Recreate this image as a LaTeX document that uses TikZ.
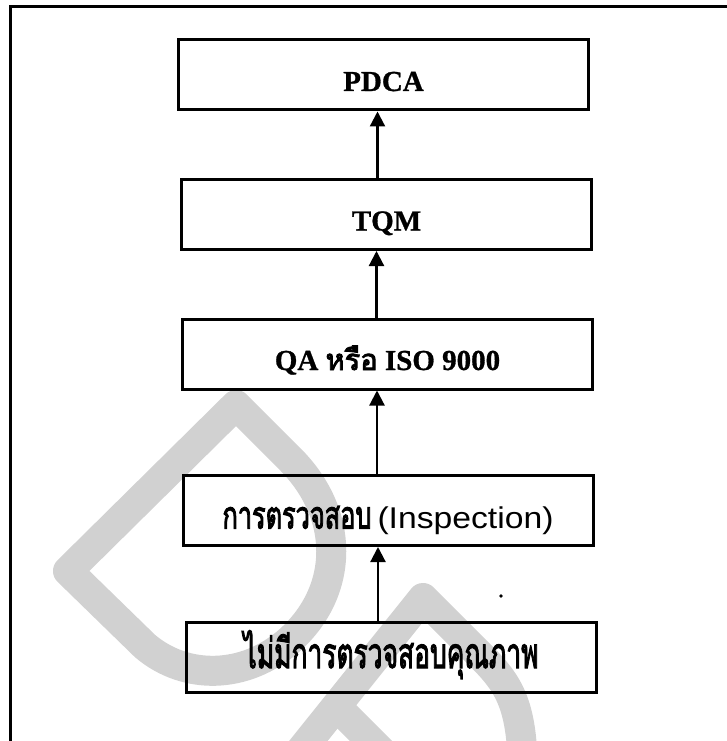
\documentclass[tikz,border=0pt]{standalone}
\usepackage{fontspec}
\usepackage{graphicx}
\setmainfont{Liberation Serif}[BoldFeatures={FakeBold=1}]
\newfontfamily\thaifont[Script=Thai, BoldFont=Loma, BoldFeatures={FakeBold=3}]{Loma}
\newfontfamily\arialfont{Liberation Sans}
\usetikzlibrary{arrows.meta}

\tikzset{
  stage/.style={draw, line width=3pt, minimum width=410pt, minimum height=70pt,
    inner sep=0pt, text height=32pt, text depth=0pt},
  upar/.style={line width=2.2pt, -{Triangle[length=15pt,width=15pt]}},
  wmark/.style={draw=black!18, line width=30pt, line join=round}
}

\begin{document}
\begin{tikzpicture}[x=1pt, y=-1pt]
  \useasboundingbox (0,0) rectangle (727,741);
  % watermark behind everything
  \begin{scope}
    \clip (0,0) rectangle (727,741);
    \draw[wmark] (68,571) -- (236,405) -- (290,459)
      .. controls (345,514) and (345,590) .. (290,640)
      .. controls (245,680) and (185,680) .. (145,646) -- cycle;
    \draw[wmark] (261,800) -- (423,598) -- (480,655)
      .. controls (510,685) and (523,705) .. (523,780);
    \draw[wmark] (335,705) -- (395,765);
  \end{scope}
  % frame
  \draw[line width=3pt] (10,741) -- (10,7) -- (727,7);

  \node[stage] (pdca) at (383.5,75) {\fontsize{29}{34}\selectfont\bfseries PDCA};
  \node[stage] (tqm) at (386.5,214.5) {\fontsize{29}{34}\selectfont\bfseries TQM};
  \node[stage] (qa) at (387.5,354) {\fontsize{29}{34}\selectfont\bfseries QA {\thaifont หรือ} ISO 9000};
  \node[stage, text height=36pt] (insp) at (388,510.5)
    {\fontsize{38}{44}\selectfont\resizebox{149pt}{\height}{\thaifont\bfseries การตรวจสอบ}\hspace{6pt}%
     \fontsize{30}{36}\selectfont\resizebox{176pt}{\height}{\arialfont (Inspection)}};
  \node[stage, text height=21pt] (none) at (391,657.5)
    {\fontsize{42}{48}\selectfont\resizebox{295pt}{\height}{\thaifont\bfseries ไม่มีการตรวจสอบคุณภาพ}};

  \draw[upar] ([xshift=-9pt]tqm.north) -- ([xshift=-9pt]tqm.north |- pdca.south);
  \draw[upar] ([xshift=-11pt]qa.north) -- ([xshift=-11pt]qa.north |- tqm.south);
  \draw[upar] ([xshift=-11pt]insp.north) -- ([xshift=-11pt]insp.north |- qa.south);
  \draw[upar] ([xshift=-13pt]none.north) -- ([xshift=-13pt]none.north |- insp.south);

  \fill (501,596) circle[radius=1.8pt];
\end{tikzpicture}
\end{document}
